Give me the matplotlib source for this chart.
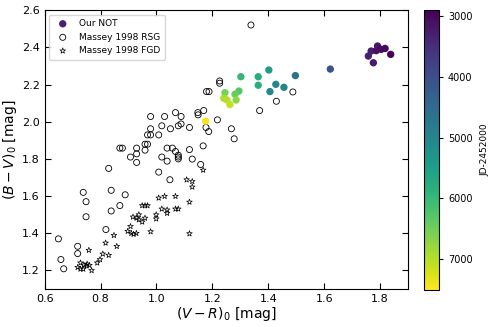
import numpy as np
import matplotlib
matplotlib.use("Agg")
import matplotlib.pyplot as plt

# Our NOT observations
not_vr = [1.758, 1.768, 1.776, 1.791, 1.786, 1.804, 1.818, 1.838,
          1.622, 1.497, 1.456, 1.427, 1.406, 1.402, 1.364, 1.364,
          1.302, 1.295, 1.281, 1.285, 1.245, 1.241, 1.252, 1.263, 1.176]
not_bv = [2.353, 2.380, 2.317, 2.407, 2.382, 2.389, 2.394, 2.362,
          2.283, 2.248, 2.185, 2.201, 2.162, 2.278, 2.242, 2.196,
          2.242, 2.165, 2.148, 2.117, 2.156, 2.126, 2.117, 2.092, 2.003]
not_jd = [3300, 3250, 3200, 3150, 3100, 3050, 3000, 2950,
          4100, 4600, 4950, 5000, 5050, 5450, 5750, 5800,
          5950, 6300, 6450, 6700, 6550, 6900, 7000, 7100, 7450]

# Massey 1998 RSG
rsg_vr = [0.649, 0.658, 0.668, 0.718, 0.718, 0.738, 0.748, 0.748, 0.819, 0.829,
          0.838, 0.838, 0.869, 0.869, 0.878, 0.888, 0.907, 0.929, 0.929, 0.929,
          0.959, 0.959, 0.968, 0.968, 0.979, 0.979, 0.979, 1.008, 1.008, 1.019,
          1.019, 1.029, 1.038, 1.038, 1.048, 1.05, 1.057, 1.068, 1.068, 1.078,
          1.078, 1.078, 1.078, 1.088, 1.088, 1.118, 1.118, 1.128, 1.148, 1.149,
          1.167, 1.169, 1.158, 1.177, 1.187, 1.218, 1.268, 1.278, 1.179, 1.188,
          1.226, 1.226, 1.338, 1.369, 1.429, 1.488]
rsg_bv = [1.370, 1.259, 1.209, 1.330, 1.291, 1.620, 1.570, 1.489, 1.420, 1.749,
          1.631, 1.520, 1.549, 1.858, 1.858, 1.607, 1.810, 1.858, 1.827, 1.781,
          1.879, 1.847, 1.929, 1.879, 2.028, 1.962, 1.929, 1.929, 1.729, 1.978,
          1.810, 2.028, 1.858, 1.788, 1.688, 1.962, 1.858, 2.049, 1.840, 1.978,
          1.820, 1.810, 1.800, 2.028, 1.988, 1.969, 1.850, 1.799, 2.049, 2.037,
          1.870, 2.060, 1.770, 1.969, 1.947, 2.010, 1.962, 1.908, 2.162, 2.162,
          2.219, 2.207, 2.520, 2.060, 2.110, 2.160]

# Massey 1998 FGD
fgd_vr = [0.718, 0.728, 0.728, 0.738, 0.740, 0.750, 0.752, 0.760, 0.758, 0.768,
          0.788, 0.798, 0.808, 0.818, 0.829, 0.848, 0.858, 0.897, 0.907, 0.910,
          0.918, 0.928, 0.916, 0.929, 0.937, 0.937, 0.949, 0.959, 0.949, 0.959,
          0.968, 0.979, 0.999, 0.999, 1.008, 1.019, 1.029, 1.038, 1.038, 1.068,
          1.068, 1.078, 1.108, 1.128, 1.128, 1.118, 1.118, 1.167]
fgd_bv = [1.217, 1.241, 1.208, 1.208, 1.230, 1.225, 1.235, 1.228, 1.309, 1.200,
          1.241, 1.259, 1.289, 1.348, 1.282, 1.389, 1.330, 1.411, 1.437, 1.400,
          1.395, 1.400, 1.488, 1.482, 1.500, 1.473, 1.461, 1.482, 1.549, 1.549,
          1.549, 1.409, 1.500, 1.478, 1.590, 1.531, 1.599, 1.526, 1.508, 1.599,
          1.531, 1.531, 1.688, 1.679, 1.649, 1.568, 1.398, 1.740]

fig = plt.figure(figsize=(4.91, 3.27), dpi=100)
ax = fig.add_axes([0.091, 0.116, 0.740, 0.853])
cax = fig.add_axes([0.864, 0.113, 0.030, 0.856])

sc = ax.scatter(not_vr, not_bv, c=not_jd, cmap='viridis', vmin=2900, vmax=7510,
                s=28, edgecolors='none', label='Our NOT', zorder=3)
ax.scatter(rsg_vr, rsg_bv, facecolors='none', edgecolors='black', s=19,
           linewidths=0.6, label='Massey 1998 RSG', zorder=2)
ax.scatter(fgd_vr, fgd_bv, marker='*', facecolors='none', edgecolors='black', s=18,
           linewidths=0.5, label='Massey 1998 FGD', zorder=2)

ax.set_xlim(0.6, 1.9)
ax.set_ylim(1.1, 2.6)
ax.set_xticks([0.6, 0.8, 1.0, 1.2, 1.4, 1.6, 1.8])
ax.set_yticks([1.2, 1.4, 1.6, 1.8, 2.0, 2.2, 2.4, 2.6])
ax.tick_params(direction='in', top=True, right=True, labelsize=8, length=4, width=0.8)
ax.set_xlabel(r'$(V-R)_0$ [mag]', fontsize=10, labelpad=1)
ax.set_ylabel(r'$(B-V)_0$ [mag]', fontsize=10, labelpad=2)
ax.legend(loc='upper left', fontsize=6.5, handletextpad=0.8, borderpad=0.5,
          labelspacing=0.5)

cb = fig.colorbar(sc, cax=cax)
cb.ax.invert_yaxis()
cb.set_ticks([3000, 4000, 5000, 6000, 7000])
cb.ax.tick_params(labelsize=7, direction='out', length=3)
cb.set_label('JD-2452000', fontsize=6.5, labelpad=6)

fig.savefig('out.png', dpi=100)
